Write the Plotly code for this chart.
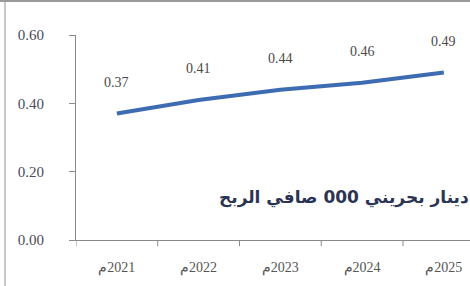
import plotly.graph_objects as go

categories = ["م\u200e2021", "م\u200e2022", "م\u200e2023", "م\u200e2024", "م\u200e2025"]
values = [0.37, 0.41, 0.44, 0.46, 0.49]
value_labels = ["0.37", "0.41", "0.44", "0.46", "0.49"]
y_ticks = [0.0, 0.2, 0.4, 0.6]
y_tick_labels = ["0.00", "0.20", "0.40", "0.60"]
title_text = "دينار بحريني 000 صافي الربح"

W, H = 470, 286
ml, mr, mt, mb = 76, 0, 35, 46
PW, PH = W - ml - mr, H - mt - mb
SERIF = "Liberation Serif"

fig = go.Figure()
fig.add_trace(go.Scatter(
    x=list(range(len(categories))), y=values, mode="lines",
    line=dict(color="#3d6cb3", width=4), hoverinfo="skip", showlegend=False,
))

for i, (v, t) in enumerate(zip(values, value_labels)):
    fig.add_annotation(x=i, y=v, text=t, showarrow=False, yshift=31,
                       font=dict(family=SERIF, size=14, color="#4a4a4a"))

fig.add_annotation(xref="paper", yref="paper", x=1.0, y=(240 - 197) / PH,
                   xanchor="right", yanchor="middle", borderpad=0,
                   text="<b>" + title_text + "</b>", showarrow=False,
                   font=dict(family="DejaVu Sans", size=17, color="#2b3553"))

# frame lines of the original picture
fig.add_shape(type="line", xref="paper", yref="paper",
              x0=(5 - ml) / PW, x1=(5 - ml) / PW, y0=-1, y1=2,
              line=dict(color="#c8c8c8", width=2))
fig.add_shape(type="line", xref="paper", yref="paper",
              x0=-1, x1=2, y0=(240 - 1) / PH, y1=(240 - 1) / PH,
              line=dict(color="#9a9a9a", width=2))

fig.update_layout(
    width=W, height=H, margin=dict(l=ml, r=mr, t=mt, b=mb, autoexpand=False),
    paper_bgcolor="white", plot_bgcolor="white",
    xaxis=dict(
        tickmode="array", tickvals=list(range(len(categories))), ticktext=categories,
        range=[-0.5, 4.32], showgrid=False, zeroline=False, automargin=False,
        showline=True, linecolor="#8a8a8a", linewidth=1,
        ticks="", ticklabelstandoff=14,
        tickfont=dict(family=SERIF, size=14, color="#555555"),
    ),
    yaxis=dict(
        tickmode="array", tickvals=y_ticks, ticktext=y_tick_labels,
        range=[0, 0.6], showgrid=False, zeroline=False, automargin=False,
        showline=True, linecolor="#8a8a8a", linewidth=1,
        ticks="outside", ticklen=6, tickcolor="#8a8a8a", ticklabelstandoff=22,
        tickfont=dict(family=SERIF, size=15, color="#4a4a5a"),
    ),
)

# category boundary ticks on x axis
for b in [-0.5, 0.5, 1.5, 2.5, 3.5]:
    fig.add_shape(type="line", xref="x", yref="paper", x0=b, x1=b, y0=0, y1=-0.03,
                  line=dict(color="#8a8a8a", width=1))

fig.write_html("out.html", config={"displayModeBar": False},
               post_script="document.body.style.margin='0';")
